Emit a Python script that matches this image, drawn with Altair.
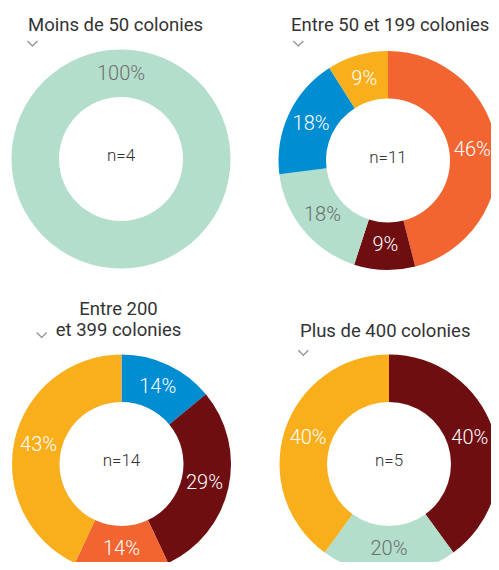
import math
import altair as alt
import pandas as pd

# ---------------- data ----------------
TITLES = [
    "Moins de 50 colonies",
    "Entre 50 et 199 colonies",
    "Entre 200\net 399 colonies",
    "Plus de 400 colonies",
]
N_VALUES = [4, 11, 14, 5]

P1_KEYS = ["vert"]
P1_PCT = [100]
P2_KEYS = ["orange", "bordeaux", "vert", "bleu", "jaune"]
P2_PCT = [46, 9, 18, 18, 9]
P3_KEYS = ["bleu", "bordeaux", "orange", "jaune"]
P3_PCT = [14, 29, 14, 43]
P4_KEYS = ["bordeaux", "vert", "jaune"]
P4_PCT = [40, 20, 40]

PANEL_KEYS = [P1_KEYS, P2_KEYS, P3_KEYS, P4_KEYS]
PANEL_PCT = [P1_PCT, P2_PCT, P3_PCT, P4_PCT]

# ---------------- styles / layout ----------------
COLORS = {
    "orange": "#F26531",
    "bordeaux": "#6F0E11",
    "vert": "#B3DECB",
    "bleu": "#008DD2",
    "jaune": "#F9AE1C",
}
LABEL_COLORS = {"vert": "#6E6E6E"}
FONT = "Roboto"
CENTERS = [(113, 151), (380, 152.5), (113.5, 456), (381, 456)]
TITLE_POS = [(20, 23, "left"), (283, 23, "left"), (110.5, 307, "center"), (292, 329, "left")]
CHEVRON_POS = [(24.5, 35.5), (290.3, 35.5), (33.7, 327), (295.3, 344.7)]
INNER_R, OUTER_R, LABEL_R = 62, 109.5, 85

layers = []
for i in range(4):
    keys, pcts = PANEL_KEYS[i], PANEL_PCT[i]
    df = pd.DataFrame({
        "rank": list(range(len(keys))),
        "cat": keys,
        "pct": pcts,
        "label": [f"{p}%" for p in pcts],
        "color": [COLORS[k] for k in keys],
        "tcolor": [LABEL_COLORS.get(k, "#FFFFFF") for k in keys],
    })
    cx, cy = CENTERS[i]
    rng = [-math.pi, math.pi] if len(keys) == 1 else [0, 2 * math.pi]
    theta = alt.Theta("pct:Q", stack=True, scale=alt.Scale(domain=[0, 100], range=rng))
    arc = alt.Chart(df).mark_arc(innerRadius=INNER_R, outerRadius=OUTER_R, clip=True).encode(
        theta=theta,
        order=alt.Order("rank:Q"),
        color=alt.Color("color:N", scale=None),
        x=alt.value(cx), y=alt.value(cy),
    )
    lab = alt.Chart(df).mark_text(radius=LABEL_R, font=FONT, fontSize=20, fontWeight=300).encode(
        theta=theta,
        order=alt.Order("rank:Q"),
        text="label:N",
        color=alt.Color("tcolor:N", scale=None),
        x=alt.value(cx), y=alt.value(cy),
    )
    center = alt.Chart(pd.DataFrame({"t": [f"n={N_VALUES[i]}"]})).mark_text(
        font=FONT, fontSize=17, fontWeight=300, color="#333333", dy=-3
    ).encode(text="t:N", x=alt.value(cx), y=alt.value(cy))
    tx, ty, al = TITLE_POS[i]
    title = alt.Chart(pd.DataFrame({"t": [TITLES[i]]})).mark_text(
        font=FONT, fontSize=18.5, color="#333333", align=al, baseline="alphabetic",
        lineBreak="\n", lineHeight=21,
    ).encode(text="t:N", x=alt.value(tx), y=alt.value(ty))
    chx, chy = CHEVRON_POS[i]
    chev = alt.Chart(pd.DataFrame({"t": [0]})).mark_point(
        shape="M-1,-0.5L0,0.5L1,-0.5", size=100, filled=False, stroke="#999999", strokeWidth=1.5, opacity=1
    ).encode(x=alt.value(chx), y=alt.value(chy))
    layers += [arc, lab, center, title, chev]

chart = alt.layer(*layers).resolve_scale(theta="independent").properties(
    width=483, height=554, autosize="none", padding=0
).configure_view(stroke=None)

chart.save("out.html", embed_options={"renderer": "svg", "actions": False})
